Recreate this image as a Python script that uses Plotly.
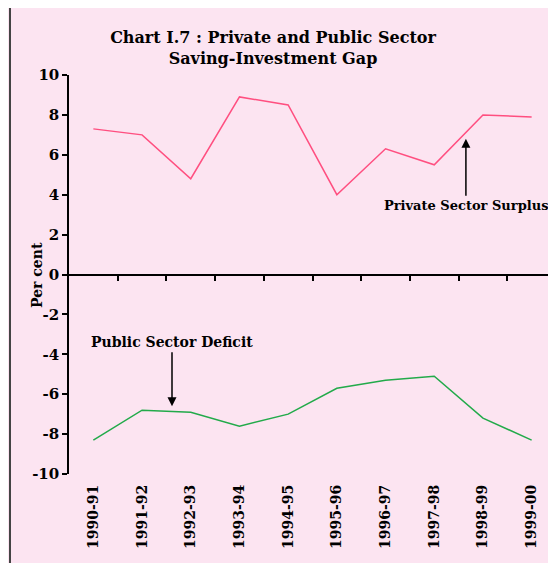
import plotly.graph_objects as go

years = ["1990-91", "1991-92", "1992-93", "1993-94", "1994-95",
         "1995-96", "1996-97", "1997-98", "1998-99", "1999-00"]
private_surplus = [7.3, 7.0, 4.8, 8.9, 8.5, 4.0, 6.3, 5.5, 8.0, 7.9]
public_deficit = [-8.3, -6.8, -6.9, -7.6, -7.0, -5.7, -5.3, -5.1, -7.2, -8.3]
y_ticks = [10, 8, 6, 4, 2, 0, -2, -4, -6, -8, -10]

OFF = 8  # page body margin
W, H = 556 - OFF, 563 - OFF
FONT = "DejaVu Serif"
xpos = list(range(len(years)))

def px(yp):
    return 1 - (yp - OFF) / H

def pxx(xp):
    return (xp - OFF) / W

y_top, y_bot = px(75), px(474)
y_zero = (y_top + y_bot) / 2

fig = go.Figure()
fig.add_trace(go.Scatter(x=xpos, y=private_surplus, mode="lines",
                         line=dict(color="#ff4f80", width=1.5), showlegend=False))
fig.add_trace(go.Scatter(x=xpos, y=public_deficit, mode="lines",
                         line=dict(color="#22aa4a", width=1.5), showlegend=False))

fig.update_layout(
    width=W, height=H,
    margin=dict(l=0, r=0, t=0, b=0, autoexpand=False),
    paper_bgcolor="#fce4f1", plot_bgcolor="rgba(0,0,0,0)",
    font=dict(family=FONT, color="black", size=12),
    title=dict(text="<b>Chart I.7 : Private and Public Sector<br>Saving-Investment Gap</b>",
               x=pxx(273), xanchor="center", y=px(43), yanchor="middle",
               yref="container", font=dict(family=FONT, size=16)),
    xaxis=dict(domain=[pxx(69), 1], range=[-0.5, 9.5], anchor="free", position=y_zero,
               automargin=False,
               showgrid=False, zeroline=False, showline=True, linecolor="black", linewidth=1.5,
               tickvals=[i + 0.5 for i in xpos[:-1]], ticktext=[""] * (len(years) - 1),
               ticks="outside", ticklen=6, tickcolor="black", tickwidth=1.5,
               showticklabels=False),
    xaxis2=dict(overlaying="x", matches="x", range=[-0.5, 9.5], anchor="free", position=px(481),
                automargin=False,
                showgrid=False, zeroline=False, showline=False,
                tickvals=xpos, ticktext=["<b>%s</b>" % y for y in years],
                tickangle=-90, ticks="", tickfont=dict(family=FONT, size=14)),
    yaxis=dict(domain=[y_bot, y_top], range=[-10, 10], showgrid=False, zeroline=False,
               automargin=False,
               showline=True, linecolor="black", linewidth=1.5,
               tickvals=y_ticks, ticktext=["<b>%d</b>" % v for v in y_ticks],
               ticks="outside", ticklen=5, tickcolor="black", tickwidth=1.5,
               tickfont=dict(family=FONT, size=15)),
    shapes=[
        dict(type="line", xref="paper", yref="paper", x0=pxx(10), x1=1, y0=px(7), y1=px(7),
             line=dict(color="#444444", width=2)),
        dict(type="line", xref="paper", yref="paper", x0=pxx(10), x1=pxx(10), y0=px(7), y1=0,
             line=dict(color="#444444", width=2)),
    ],
    annotations=[
        dict(text="<b>Per cent</b>", xref="paper", yref="paper", x=pxx(27), y=px(275),
             textangle=-90, showarrow=False, font=dict(family=FONT, size=14)),
        dict(text="<b>Private Sector Surplus</b>", x=7.65, y=6.8, ax=7.65, ay=3.95,
             axref="x", ayref="y", showarrow=True, arrowhead=2, arrowsize=1.2,
             arrowwidth=1.5, arrowcolor="black", standoff=0, startstandoff=0,
             font=dict(family=FONT, size=13), yanchor="top", xanchor="center"),
        dict(text="<b>Public Sector Deficit</b>", x=1.615, y=-6.6, ax=1.615, ay=-3.9,
             axref="x", ayref="y", showarrow=True, arrowhead=2, arrowsize=1.2,
             arrowwidth=1.5, arrowcolor="black", standoff=0,
             font=dict(family=FONT, size=14), yanchor="bottom", xanchor="center"),
    ],
)
fig.add_trace(go.Scatter(x=[None], y=[None], xaxis="x2", showlegend=False))

fig.write_html("out.html")
